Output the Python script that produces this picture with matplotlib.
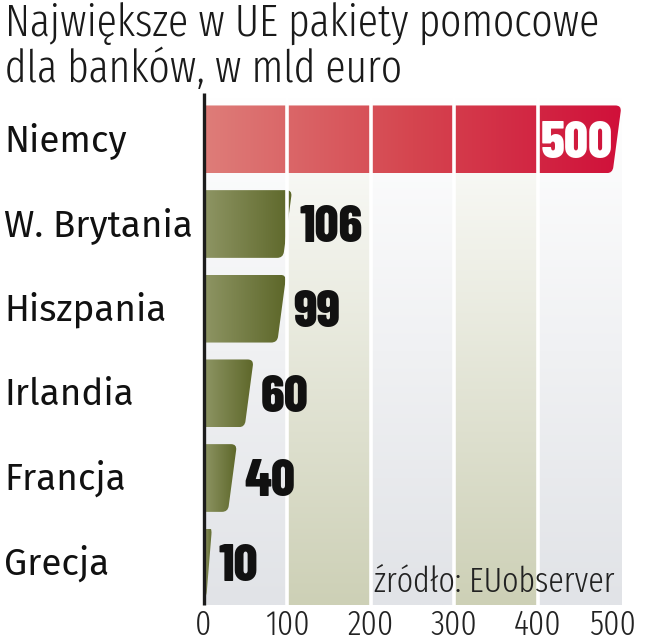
import numpy as np
import matplotlib
matplotlib.use("Agg")
import matplotlib.pyplot as plt
from matplotlib.path import Path
from matplotlib.patches import PathPatch
from matplotlib.colors import LinearSegmentedColormap
from matplotlib import transforms

# data
countries = ["Niemcy", "W. Brytania", "Hiszpania", "Irlandia", "Francja", "Grecja"]
values = [500, 106, 99, 60, 40, 10]
ticks = [0, 100, 200, 300, 400, 500]
title_lines = ["Największe w UE pakiety pomocowe", "dla banków, w mld euro"]
source = "źródło: EUobserver"

W, H = 649, 640
fig = plt.figure(figsize=(W / 100, H / 100), dpi=100)

# axes box in pixels
ax_left, ax_right, ax_top, ax_bottom = 203.5, 628.0, 97.0, 605.0
ax = fig.add_axes([ax_left / W, 1 - ax_bottom / H,
                   (ax_right - ax_left) / W, (ax_bottom - ax_top) / H])
xmax = 500 * (ax_right - ax_left) / (621.5 - ax_left)
n = len(values)

# pixel -> data units
sx = xmax / (ax_right - ax_left)
sy = n / (ax_bottom - ax_top)

light = "Fira Sans Extra Condensed"
label_font = "Fira Sans"
num_font = "Barlow Condensed"

# background columns, white at the top fading into colour
band_cols = ["#e1e3e7", "#cdd0b6"]
grad_v = np.linspace(0, 1, 256).reshape(-1, 1)
for i, (a, b) in enumerate(zip(ticks[:-1], ticks[1:])):
    cm = LinearSegmentedColormap.from_list("band%d" % i, ["#ffffff", band_cols[i % 2]])
    ax.imshow(grad_v, extent=(a, b, n - 0.5, -0.5), aspect="auto", cmap=cm, zorder=0)


def bar_path(v, c, h=0.4, slant_px=9, r_px=6):
    top, bot = c - h, c + h
    xt = v
    xb = max(v - slant_px * sx, v * 0.35)
    rx = min(r_px * sx, xb * 0.5)
    ry = r_px * sy
    k = ry / (2 * h)
    verts = [(0, top), (xt - rx, top), (xt, top), (xt - (xt - xb) * k, top + ry),
             (xb + (xt - xb) * k, bot - ry), (xb, bot), (xb - rx, bot),
             (0, bot), (0, top)]
    codes = [Path.MOVETO, Path.LINETO, Path.CURVE3, Path.CURVE3,
             Path.LINETO, Path.CURVE3, Path.CURVE3, Path.LINETO, Path.CLOSEPOLY]
    return Path(verts, codes)


red = LinearSegmentedColormap.from_list("red", ["#de7d79", "#d5454f", "#d0103a"])
green = LinearSegmentedColormap.from_list("green", ["#8e9564", "#5c6628"])
grad_h = np.linspace(0, 1, 256).reshape(1, -1)

for i, v in enumerate(values):
    cmap = red if i == 0 else green
    patch = PathPatch(bar_path(v, i), facecolor="none", edgecolor="none",
                      transform=ax.transData)
    ax.add_patch(patch)
    im = ax.imshow(grad_h, extent=(0, v, i + 0.4, i - 0.4), aspect="auto",
                   cmap=cmap, zorder=2)
    im.set_clip_path(patch)

# white gaps between the columns
for t in ticks[1:-1]:
    ax.axvline(t, color="white", lw=2.6, zorder=3)

# left axis line
ax.plot([0, 0], [-0.5 - 4 * sy, n - 0.5], color="#1c1c1c", lw=2.4,
        clip_on=False, zorder=5, solid_capstyle="butt")

ax.set_xlim(0, xmax)
ax.set_ylim(n - 0.5, -0.5)
for s in ax.spines.values():
    s.set_visible(False)
ax.set_yticks([])
ax.set_xticks(ticks)
ax.set_xticklabels([str(t) for t in ticks], fontfamily=light, fontweight=300,
                   fontsize=25, color="#222222")
ax.tick_params(axis="x", length=0, pad=2)
last = ax.get_xticklabels()[-1]
last.set_transform(last.get_transform() +
                   transforms.ScaledTranslation(-9 / 100, 0, fig.dpi_scale_trans))

# country names
name_tr = transforms.blended_transform_factory(fig.transFigure, ax.transData) + \
    transforms.ScaledTranslation(0, -12 / 100, fig.dpi_scale_trans)
for i, c in enumerate(countries):
    ax.text(4 / W, i, c, transform=name_tr, va="baseline", ha="left",
            fontfamily=label_font, fontsize=26.5, color="#111111")

# value labels
for i, v in enumerate(values):
    if i == 0:
        off, ha, col = -9, "right", "white"
    else:
        off, ha, col = 7, "left", "#111111"
    tr = ax.transData + transforms.ScaledTranslation(off / 100, -18.5 / 100,
                                                     fig.dpi_scale_trans)
    ax.text(v, i, str(v), transform=tr, ha=ha, va="baseline",
            fontfamily=num_font, fontweight=800, fontsize=38, color=col, zorder=6)

# title
fig.text(5 / W, 1 - 37 / H, title_lines[0], fontfamily=light, fontweight=300,
         fontsize=32.5, color="#1a1a1a", va="baseline")
fig.text(5 / W, 1 - 82 / H, title_lines[1], fontfamily=light, fontweight=300,
         fontsize=32.5, color="#1a1a1a", va="baseline")

# source
fig.text(615 / W, 1 - 592 / H, source, fontfamily=light, fontweight=300,
         fontsize=25, color="#222222", ha="right", va="baseline", zorder=7)

fig.savefig("out.png", dpi=100)
